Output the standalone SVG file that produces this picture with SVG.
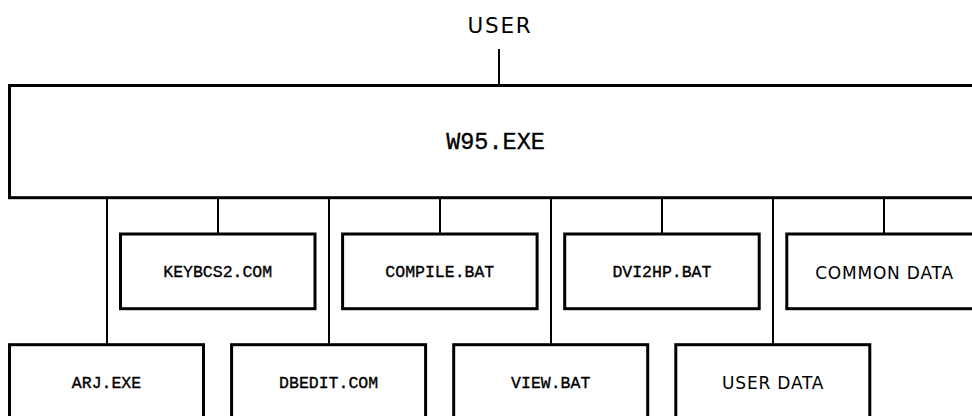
<svg xmlns="http://www.w3.org/2000/svg" width="972" height="416" viewBox="0 0 972 416">
<style>
  .box { fill: #fff; stroke: #000; stroke-width: 3; }
  .conn line { stroke: #000; stroke-width: 2; }
  .mono { font-family: "Liberation Mono", "Courier New", monospace; fill: #000; stroke: #000; stroke-width: 0.35; text-anchor: middle; }
  .sans { font-family: "DejaVu Sans", "Liberation Sans", sans-serif; fill: #000; text-anchor: middle; }
  .m16 { font-size: 16.5px; }
  .s17 { font-size: 17px; letter-spacing: 0.8px; }
</style>
<rect x="0" y="0" width="972" height="416" fill="#fff"/>
<g id="connectors" class="conn">
  <line x1="499" y1="49" x2="499" y2="85"/>
  <line x1="107" y1="198" x2="107" y2="344"/>
  <line x1="218" y1="198" x2="218" y2="233"/>
  <line x1="329" y1="198" x2="329" y2="344"/>
  <line x1="440" y1="198" x2="440" y2="233"/>
  <line x1="551" y1="198" x2="551" y2="344"/>
  <line x1="662" y1="198" x2="662" y2="233"/>
  <line x1="773" y1="198" x2="773" y2="344"/>
  <line x1="884" y1="198" x2="884" y2="233"/>
</g>
<g id="user">
  <text class="sans" x="500" y="33.3" font-size="21.5" letter-spacing="1.8">USER</text>
</g>
<g id="w95">
  <rect class="box" x="9.5" y="85.5" width="990" height="112.2"/>
  <text class="mono" x="495.5" y="149.3" font-size="23.5">W95.EXE</text>
</g>
<g id="keybcs2">
  <rect class="box" x="120.5" y="234" width="194.5" height="74.7"/>
  <text class="mono m16" x="217.7" y="277.3">KEYBCS2.COM</text>
</g>
<g id="compile">
  <rect class="box" x="342.6" y="234" width="194.5" height="74.7"/>
  <text class="mono m16" x="439.8" y="277.3">COMPILE.BAT</text>
</g>
<g id="dvi2hp">
  <rect class="box" x="564.7" y="234" width="194.5" height="74.7"/>
  <text class="mono m16" x="661.9" y="277.3">DVI2HP.BAT</text>
</g>
<g id="common-data">
  <rect class="box" x="786.8" y="234" width="194.5" height="74.7"/>
  <text class="sans s17" x="884.5" y="278.5">COMMON DATA</text>
</g>
<g id="arj">
  <rect class="box" x="9.5" y="344.7" width="194" height="100"/>
  <text class="mono m16" x="106.5" y="388.3">ARJ.EXE</text>
</g>
<g id="dbedit">
  <rect class="box" x="231.6" y="344.7" width="194" height="100"/>
  <text class="mono m16" x="328.6" y="388.3">DBEDIT.COM</text>
</g>
<g id="view">
  <rect class="box" x="453.7" y="344.7" width="194" height="100"/>
  <text class="mono m16" x="550.7" y="388.3">VIEW.BAT</text>
</g>
<g id="user-data">
  <rect class="box" x="675.8" y="344.7" width="194" height="100"/>
  <text class="sans s17" x="773.2" y="389">USER DATA</text>
</g>
</svg>
